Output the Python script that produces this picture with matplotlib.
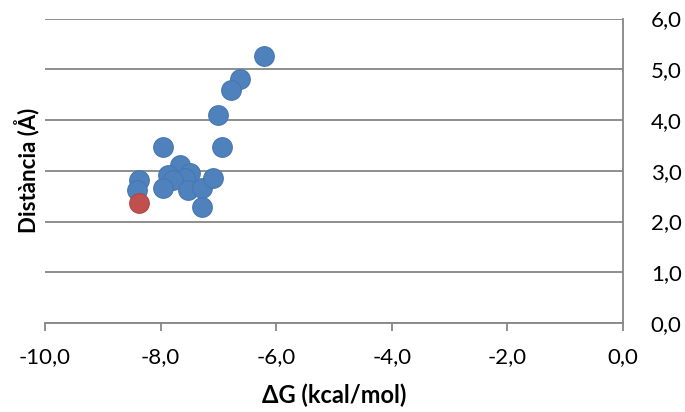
import matplotlib
matplotlib.use('Agg')
import matplotlib.pyplot as plt
from matplotlib.ticker import FuncFormatter

# energia lliure (kcal/mol) i distancia (A)
dg_blue = [-6.21, -6.63, -6.79, -7.00, -6.94, -7.95, -8.37, -8.41, -7.66,
           -7.87, -7.49, -7.58, -7.78, -7.95, -7.52, -7.29, -7.09, -7.29]
dist_blue = [5.26, 4.81, 4.60, 4.09, 3.46, 3.46, 2.81, 2.62, 3.12,
             2.92, 2.95, 2.85, 2.82, 2.66, 2.62, 2.66, 2.85, 2.29]
dg_red = [-8.37]
dist_red = [2.37]

x_ticks = [-10, -8, -6, -4, -2, 0]
y_ticks = [0, 1, 2, 3, 4, 5, 6]

plt.rcParams['font.family'] = ['Lato', 'DejaVu Sans']

fig = plt.figure(figsize=(6.85, 4.12), dpi=100)
ax = fig.add_axes([0.0657, 0.216, 0.8438, 0.739])

grey = '#868686'
ax.scatter(dg_blue, dist_blue, s=200, color='#4F81BD', edgecolors='#4677B0',
           linewidths=0.8, zorder=3)
ax.scatter(dg_red, dist_red, s=200, color='#C0504D', edgecolors='#B04744',
           linewidths=0.8, zorder=3)

ax.set_xlim(-10, 0)
ax.set_ylim(0, 6)
ax.set_xticks(x_ticks)
ax.set_yticks(y_ticks)
comma = FuncFormatter(lambda v, p: ('%.1f' % v).replace('.', ','))
ax.xaxis.set_major_formatter(comma)
ax.yaxis.set_major_formatter(comma)

ax.yaxis.tick_right()
ax.yaxis.grid(True, color=grey, linewidth=1.3)
ax.set_axisbelow(True)
for side in ['top', 'left']:
    ax.spines[side].set_visible(False)
for side in ['bottom', 'right']:
    ax.spines[side].set_color(grey)
    ax.spines[side].set_linewidth(1.3)

ax.tick_params(axis='x', direction='out', length=6, width=1.3, color=grey,
               labelsize=16, pad=11)
ax.tick_params(axis='y', length=0, labelsize=16, pad=20)

ax.set_xlabel('ΔG (kcal/mol)', fontsize=17, fontweight='bold', labelpad=12)
ax.set_ylabel('Distància (Å)', fontsize=16, fontweight='bold')
ax.yaxis.set_label_position('left')
ax.yaxis.set_label_coords(-0.01, 0.5)

fig.savefig('out.png', dpi=100)
